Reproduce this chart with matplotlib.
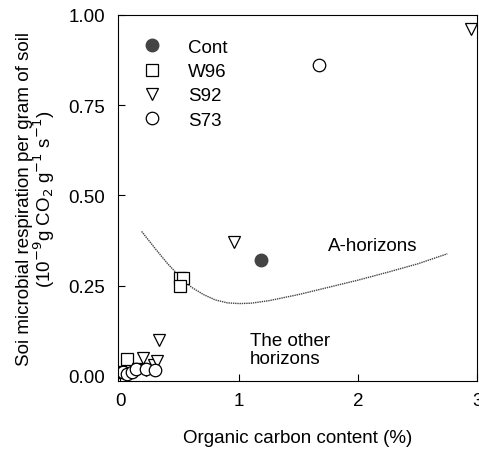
import matplotlib.pyplot as plt

plt.rcParams['font.family'] = ['Liberation Sans', 'DejaVu Sans']

# Data
cont_x = [1.18]
cont_y = [0.32]

w96_x = [0.0, 0.06, 0.50, 0.53, 0.50]
w96_y = [0.01, 0.045, 0.27, 0.27, 0.25]

s92_x = [0.15, 0.19, 0.22, 0.28, 0.31, 0.33, 0.96, 2.95]
s92_y = [0.02, 0.05, 0.015, 0.03, 0.04, 0.10, 0.37, 0.96]

s73_x = [0.02, 0.06, 0.10, 0.13, 0.22, 0.29, 1.67]
s73_y = [0.01, 0.005, 0.01, 0.02, 0.02, 0.015, 0.86]

# boundary line between A-horizons and other horizons
line_x = [0.18, 0.30, 0.40, 0.50, 0.60, 0.70, 0.80, 0.90, 1.00, 1.10, 1.25, 1.50, 1.75, 2.00, 2.25, 2.50, 2.75]
line_y = [0.40, 0.35, 0.31, 0.275, 0.245, 0.225, 0.21, 0.202, 0.20, 0.201, 0.208, 0.225, 0.245, 0.265, 0.287, 0.31, 0.338]

fig = plt.figure(figsize=(4.79, 4.56), dpi=100)
ax = fig.add_axes([0.246, 0.162, 0.75, 0.803])

ax.plot(line_x, line_y, linestyle=(0, (1, 0.6)), color='#444444', linewidth=1.0)

ms = 9
ax.plot(cont_x, cont_y, 'o', color='#444444', markersize=ms, label='Cont')
ax.plot(w96_x, w96_y, 's', mfc='white', mec='black', mew=0.9, markersize=ms, label='W96')
ax.plot(s92_x, s92_y, 'v', mfc='white', mec='black', mew=0.9, markersize=ms, label='S92')
ax.plot(s73_x, s73_y, 'o', mfc='white', mec='black', mew=0.9, markersize=ms, label='S73')

fs = 13.5
ax.text(1.75, 0.36, 'A-horizons', fontsize=fs, va='center')
ax.text(1.09, 0.072, 'The other\nhorizons', fontsize=fs, va='center', linespacing=1.05)

ax.set_xlim(-0.02, 3.0)
ax.set_ylim(-0.015, 1.0)
ax.set_xticks([0, 1, 2, 3])
ax.set_yticks([0, 0.25, 0.5, 0.75, 1.0])
ax.set_yticklabels(['0.00', '0.25', '0.50', '0.75', '1.00'])
ax.tick_params(direction='in', length=5, labelsize=fs)
ax.tick_params(axis='y', pad=9)
ax.tick_params(axis='x', pad=8)

ax.set_xlabel('Organic carbon content (%)', fontsize=fs, labelpad=14)
ax.set_ylabel('Soi microbial respiration per gram of soil\n'
              '(10$^{-9}$g CO$_2$ g$^{-1}$ s$^{-1}$)', fontsize=fs, labelpad=8, linespacing=0.95)

ax.legend(loc='upper left', frameon=False, fontsize=fs, handlelength=1.0, handletextpad=1.4,
          labelspacing=0.38, borderpad=0, borderaxespad=0, bbox_to_anchor=(0.07, 0.935))

fig.savefig('out.png', dpi=100)
